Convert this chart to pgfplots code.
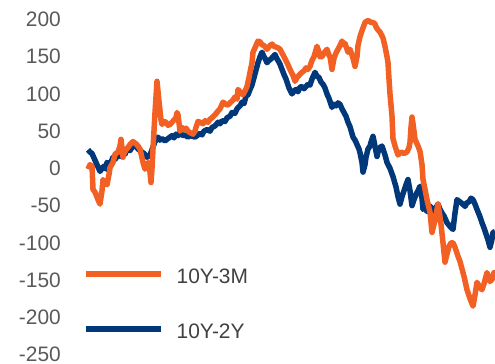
\documentclass[border=0pt]{standalone}
\usepackage{fontspec}
\setmainfont{Liberation Sans}
\usepackage{pgfplots}
\pgfplotsset{compat=1.18}
\definecolor{sorange}{RGB}{242,96,36}
\definecolor{sblue}{RGB}{0,56,122}
\definecolor{tickgray}{RGB}{89,89,89}
\definecolor{leggray}{RGB}{64,64,64}
\begin{document}
\begin{tikzpicture}
\useasboundingbox (0,0) rectangle (495bp,364bp);
\begin{axis}[
  at={(87bp,9.5bp)}, anchor=south west,
  scale only axis, width=408bp, height=335bp,
  xmin=87, xmax=495, ymin=-250, ymax=200,
  clip=false,
  axis line style={draw=none},
  major tick style={draw=none},
  xtick=\empty,
  ytick={-250,-200,...,200},
  /pgf/number format/assume math mode=true,
  yticklabel style={font=\fontsize{21}{21}\selectfont, text=tickgray, inner sep=0pt, anchor=east, xshift=-26bp},
  legend image code/.code={\draw[#1, line width=5.5bp] (0bp,2bp) -- (75bp,2bp);},
  legend cell align=left,
  legend style={at={(axis description cs:0,0)}, anchor=south west, xshift=-4bp, yshift=16bp,
    draw=none, fill=none, inner sep=0pt, row sep=40bp, column sep=13bp,
    font=\fontsize{21}{21}\selectfont, text=leggray,
    nodes={inner sep=0pt, text height=15bp, text depth=0pt}},
]
\addlegendimage{sorange}
\addlegendentry{10Y-3M}
\addlegendimage{sblue}
\addlegendentry{10Y-2Y}
\addplot[sblue, line width=5.5bp, line join=round, forget plot] coordinates {
(88,25)(90,22)(92,20)(94,14)(96,8)(98,2)(100,-4)(102,0)(104,3)(106,-1)(107,8)(110,5)(113,15)(115,12)(118,18)(121,16)(123,21)(125,19)(127,26)(130,24)(132,28)(134,32)(136,30)(138,26)(140,24)(142,22)(144,20)(146,17)(147,15)(150,18)(152,25)(155,36)(158,42)(160,38)(162,40)(165,37)(167,39)(170,42)(172,44)(174,41)(176,46)(178,44)(180,48)(183,44)(185,45)(188,42)(190,44)(193,43)(195,42)(198,45)(200,47)(202,45)(204,50)(207,52)(210,50)(212,55)(215,57)(218,62)(220,60)(222,64)(225,63)(227,68)(230,70)(232,75)(235,74)(237,80)(240,84)(242,89)(244,87)(246,97)(248,99)(250,106)(252,112)(254,122)(256,132)(258,142)(260,150)(262,156)(264,150)(265,148)(267,142)(269,145)(271,147)(273,150)(275,153)(277,147)(278,145)(280,140)(282,133)(284,126)(286,120)(288,112)(289,108)(292,100)(294,104)(296,106)(298,103)(300,109)(302,110)(304,107)(306,110)(308,113)(310,112)(312,120)(315,129)(317,124)(319,122)(321,116)(323,113)(325,108)(327,100)(329,94)(330,90)(332,82)(334,86)(336,84)(338,88)(340,86)(342,80)(344,75)(346,70)(348,62)(350,56)(353,42)(355,38)(357,32)(359,26)(360,21)(362,8)(363,-5)(365,5)(366,15)(368,26)(370,30)(371,35)(373,43)(375,30)(377,16)(378,22)(380,28)(382,30)(384,22)(385,18)(387,8)(390,0)(393,-11)(396,-25)(398,-38)(400,-48)(402,-38)(404,-30)(406,-22)(408,-15)(410,-30)(412,-50)(414,-42)(416,-35)(418,-30)(420,-24)(422,-40)(423,-55)(425,-52)(427,-58)(429,-50)(431,-52)(433,-58)(435,-55)(438,-48)(440,-55)(442,-60)(444,-64)(447,-73)(450,-78)(453,-82)(455,-60)(457,-42)(459,-44)(462,-47)(465,-51)(467,-46)(469,-45)(471,-40)(473,-42)(475,-48)(477,-55)(480,-65)(482,-73)(484,-80)(486,-88)(488,-96)(490,-106)(492,-95)(493,-86)(495,-85)
};
\addplot[sorange, line width=5.5bp, line join=round, forget plot] coordinates {
(88,-1)(90,5)(92,3)(93,-28)(95,-32)(96,-35)(98,-42)(100,-48)(102,-30)(103,-15)(105,-20)(107,-22)(109,-8)(110,1)(113,8)(115,19)(118,22)(120,30)(121,39)(123,15)(124,20)(126,25)(128,28)(130,32)(133,36)(136,33)(138,30)(140,26)(141,20)(143,8)(145,-1)(148,8)(150,-5)(151,-19)(152,0)(153,26)(155,75)(157,117)(159,90)(161,65)(162,59)(164,63)(166,62)(168,58)(170,59)(172,62)(174,65)(176,68)(177,75)(178,72)(180,50)(182,55)(184,52)(186,54)(188,50)(190,48)(193,46)(195,50)(196,55)(198,63)(200,62)(203,60)(205,64)(208,62)(210,66)(212,68)(215,72)(218,77)(220,80)(223,89)(226,86)(228,85)(230,88)(233,92)(235,96)(237,93)(238,106)(240,103)(243,99)(245,104)(247,110)(249,122)(250,129)(252,142)(253,156)(256,165)(258,171)(260,170)(262,166)(264,165)(267,160)(270,165)(272,167)(274,164)(276,163)(278,162)(280,160)(282,155)(284,150)(287,142)(289,136)(291,130)(293,125)(295,117)(297,122)(299,125)(302,129)(304,131)(306,135)(308,133)(310,137)(312,145)(314,150)(317,164)(319,156)(320,150)(322,150)(324,155)(327,160)(329,152)(330,150)(332,133)(334,148)(336,155)(338,160)(340,165)(342,171)(344,166)(345,168)(348,156)(350,160)(353,148)(355,137)(357,150)(358,165)(360,177)(362,185)(365,196)(367,198)(369,198)(371,196)(373,196)(375,194)(376,190)(378,186)(380,183)(382,178)(383,175)(385,164)(387,150)(388,142)(389,120)(390,100)(391,85)(392,70)(393,40)(395,30)(398,18)(401,22)(404,20)(407,22)(409,28)(410,35)(411,55)(412,69)(413,60)(414,50)(415,39)(418,30)(420,23)(422,5)(423,-15)(425,-28)(427,-42)(430,-59)(432,-86)(434,-75)(435,-70)(437,-55)(438,-48)(440,-65)(441,-75)(443,-100)(445,-126)(447,-115)(449,-105)(451,-100)(453,-100)(455,-106)(456,-110)(458,-118)(460,-125)(462,-135)(464,-145)(467,-163)(470,-175)(473,-185)(475,-170)(477,-153)(479,-158)(480,-160)(482,-163)(484,-155)(485,-150)(487,-140)(489,-148)(490,-152)(492,-149)(494,-140)(495,-150)
};
\end{axis}
\end{tikzpicture}
\end{document}
